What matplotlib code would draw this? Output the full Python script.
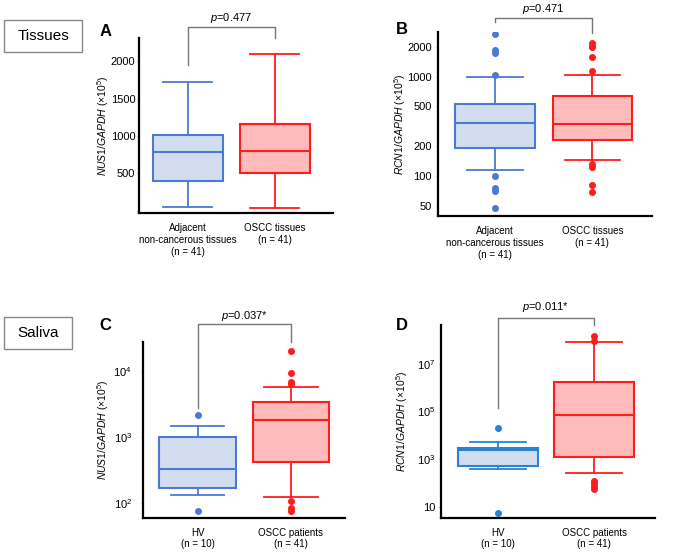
import matplotlib
matplotlib.use('Agg')
import matplotlib.pyplot as plt
from matplotlib.patches import Rectangle
from matplotlib.ticker import NullLocator

plt.rcParams['font.family'] = ['Liberation Sans', 'DejaVu Sans']
plt.rcParams['mathtext.fontset'] = 'custom'
plt.rcParams['mathtext.rm'] = 'Liberation Sans'
plt.rcParams['mathtext.it'] = 'Liberation Sans:italic'

# ---- data (q1, median, q3, whiskers, outliers) ----
tissue_labels = ['Adjacent\nnon-cancerous tissues\n(n = 41)', 'OSCC tissues\n(n = 41)']
saliva_labels = ['HV\n(n = 10)', 'OSCC patients\n(n = 41)']

# A: NUS1 tissues
a_q1 = [398, 505]
a_med = [786, 800]
a_q3 = [1014, 1157]
a_lo = [50, 32]
a_hi = [1715, 2090]
a_out = [[], []]

# B: RCN1 tissues
b_q1 = [189, 228]
b_med = [343, 330]
b_q3 = [533, 641]
b_lo = [114, 144]
b_hi = [990, 1040]
b_out = [[2685, 1853, 1716, 1030, 100, 75, 71, 47],
         [2163, 2046, 2000, 1563, 1138, 131, 124, 81, 68]]

# C: NUS1 saliva
c_q1 = [168, 425]
c_med = [326, 1803]
c_q3 = [1011, 3330]
c_lo = [133, 123]
c_hi = [1466, 5740]
c_out = [[2148, 77], [20000, 9450, 6820, 6300, 106, 84, 77]]

# D: RCN1 saliva
d_q1 = [533, 1270]
d_med = [2370, 70000]
d_q3 = [3040, 1.8e6]
d_lo = [399, 271]
d_hi = [5280, 8.7e7]
d_out = [[21000, 5.6], [1.55e8, 9.2e7, 114, 97, 70, 54]]

p_values = ['$p$=0.477', '$p$=0.471', '$p$=0.037*', '$p$=0.011*']

blue = '#4a7bd0'
blue_d = '#2a82d2'
red = '#ff1c1c'
blue_fill = '#d2ddef'
red_fill = '#ffbaba'

W, H = 677, 553
fig = plt.figure(figsize=(W / 100, H / 100), dpi=100)


def add_ax(left, right, top, bottom):
    return fig.add_axes([left / W, 1 - bottom / H, (right - left) / W, (bottom - top) / H])


def draw_panel(ax, q1, med, q3, lo, hi, out, labels, colors, width, xlim, ypad, xpad):
    stats = []
    for i in range(2):
        stats.append({'q1': q1[i], 'med': med[i], 'q3': q3[i],
                      'whislo': lo[i], 'whishi': hi[i], 'fliers': out[i]})
    fills = [blue_fill, red_fill]
    for i in range(2):
        c = colors[i]
        ax.bxp([stats[i]], positions=[i + 1], widths=width, patch_artist=True,
               boxprops=dict(facecolor=fills[i], edgecolor=c, linewidth=1.5),
               medianprops=dict(color=c, linewidth=1.5),
               whiskerprops=dict(color=c, linewidth=1.3),
               capprops=dict(color=c, linewidth=1.3),
               flierprops=dict(marker='o', markerfacecolor=c, markeredgecolor=c, markersize=4),
               capwidths=width * 0.7)
    ax.set_xlim(*xlim)
    ax.set_xticks([1, 2])
    ax.set_xticklabels(labels, fontsize=7)
    ax.tick_params(axis='x', length=0, pad=xpad)
    ax.tick_params(axis='y', labelsize=8, length=1.5, width=0.6, color='#999999', pad=ypad)
    ax.spines['top'].set_visible(False)
    ax.spines['right'].set_visible(False)
    ax.spines['left'].set_linewidth(1.6)
    ax.spines['bottom'].set_linewidth(1.6)


def bracket(ax, y_left, y_top, y_right, y_text, text):
    tr = ax.get_xaxis_transform()
    ax.plot([1, 1, 2, 2], [y_left, y_top, y_top, y_right], color='#777777',
            linewidth=1, transform=tr, clip_on=False)
    ax.text(1.5, y_text, text, transform=tr, ha='center', va='center', fontsize=8)


ylab_nus = r'$\mathit{NUS1/GAPDH}$ (×10$^{5}$)'
ylab_rcn = r'$\mathit{RCN1/GAPDH}$ (×10$^{5}$)'

# Panel A
axA = add_ax(139, 333, 38, 213)
draw_panel(axA, a_q1, a_med, a_q3, a_lo, a_hi, a_out, tissue_labels, [blue, red], 0.8,
           (0.44, 2.67), 1.2, 7.5)
axA.set_ylim(-30, 2310)
axA.set_yticks([0, 500, 1000, 1500, 2000])
axA.set_yticklabels(['', '500', '1000', '1500', '2000'])
axA.set_ylabel(ylab_nus, fontsize=7.5)
axA.yaxis.set_label_coords(-0.145, 0.5)
bracket(axA, 0.846, 1.065, 1.0, 1.114, p_values[0])

# Panel B
axB = add_ax(438, 652, 32, 216)
draw_panel(axB, b_q1, b_med, b_q3, b_lo, b_hi, b_out, tissue_labels, [blue, red], 0.815,
           (0.414, 2.613), 2.8, 7.5)
axB.set_yscale('log')
axB.set_ylim(39.4, 2813)
axB.set_yticks([50, 100, 200, 500, 1000, 2000])
axB.set_yticklabels(['50', '100', '200', '500', '1000', '2000'])
axB.yaxis.set_minor_locator(NullLocator())
axB.set_ylabel(ylab_rcn, fontsize=7.5)
axB.yaxis.set_label_coords(-0.14, 0.5)
bracket(axB, 1.056, 1.074, 0.996, 1.127, p_values[1])

# Panel C
axC = add_ax(143, 345, 342, 518)
draw_panel(axC, c_q1, c_med, c_q3, c_lo, c_hi, c_out, saliva_labels, [blue, red], 0.82,
           (0.416, 2.58), 6.4, 7)
axC.set_yscale('log')
axC.set_ylim(59.4, 27400)
axC.set_yticks([100, 1000, 10000])
axC.set_yticklabels(['$10^2$', '$10^3$', '$10^4$'])
axC.yaxis.set_minor_locator(NullLocator())
axC.set_ylabel(ylab_nus, fontsize=7.5)
axC.yaxis.set_label_coords(-0.16, 0.5)
bracket(axC, 0.625, 1.101, 1.002, 1.149, p_values[2])

# Panel D
axD = add_ax(441, 655, 325, 518)
draw_panel(axD, d_q1, d_med, d_q3, d_lo, d_hi, d_out, saliva_labels, [blue_d, red], 0.83,
           (0.411, 2.632), 2.8, 7)
axD.set_yscale('log')
axD.set_ylim(3.3, 4.4e8)
axD.set_yticks([10, 1e3, 1e5, 1e7])
axD.set_yticklabels(['10', '$10^3$', '$10^5$', '$10^7$'])
axD.yaxis.set_minor_locator(NullLocator())
axD.set_ylabel(ylab_rcn, fontsize=7.5)
axD.yaxis.set_label_coords(-0.143, 0.5)
bracket(axD, 0.568, 1.035, 1.0, 1.095, p_values[3])

# panel letters
for letter, x, y in [('A', 106, 31), ('B', 402, 30), ('C', 105, 325), ('D', 402, 325)]:
    fig.text(x / W, 1 - y / H, letter, fontsize=12, fontweight='bold', ha='center', va='center')

# section boxes
for name, x0, x1, y0, y1 in [('Tissues', 4, 82, 20, 52), ('Saliva', 4, 72, 317, 349)]:
    fig.add_artist(Rectangle((x0 / W, 1 - y1 / H), (x1 - x0) / W, (y1 - y0) / H,
                             transform=fig.transFigure, facecolor='white',
                             edgecolor='#888888', linewidth=1))
    fig.text((x0 + x1) / 2 / W, 1 - (y0 + y1) / 2 / H, name, fontsize=11,
             ha='center', va='center')

fig.savefig('out.png', dpi=100)
